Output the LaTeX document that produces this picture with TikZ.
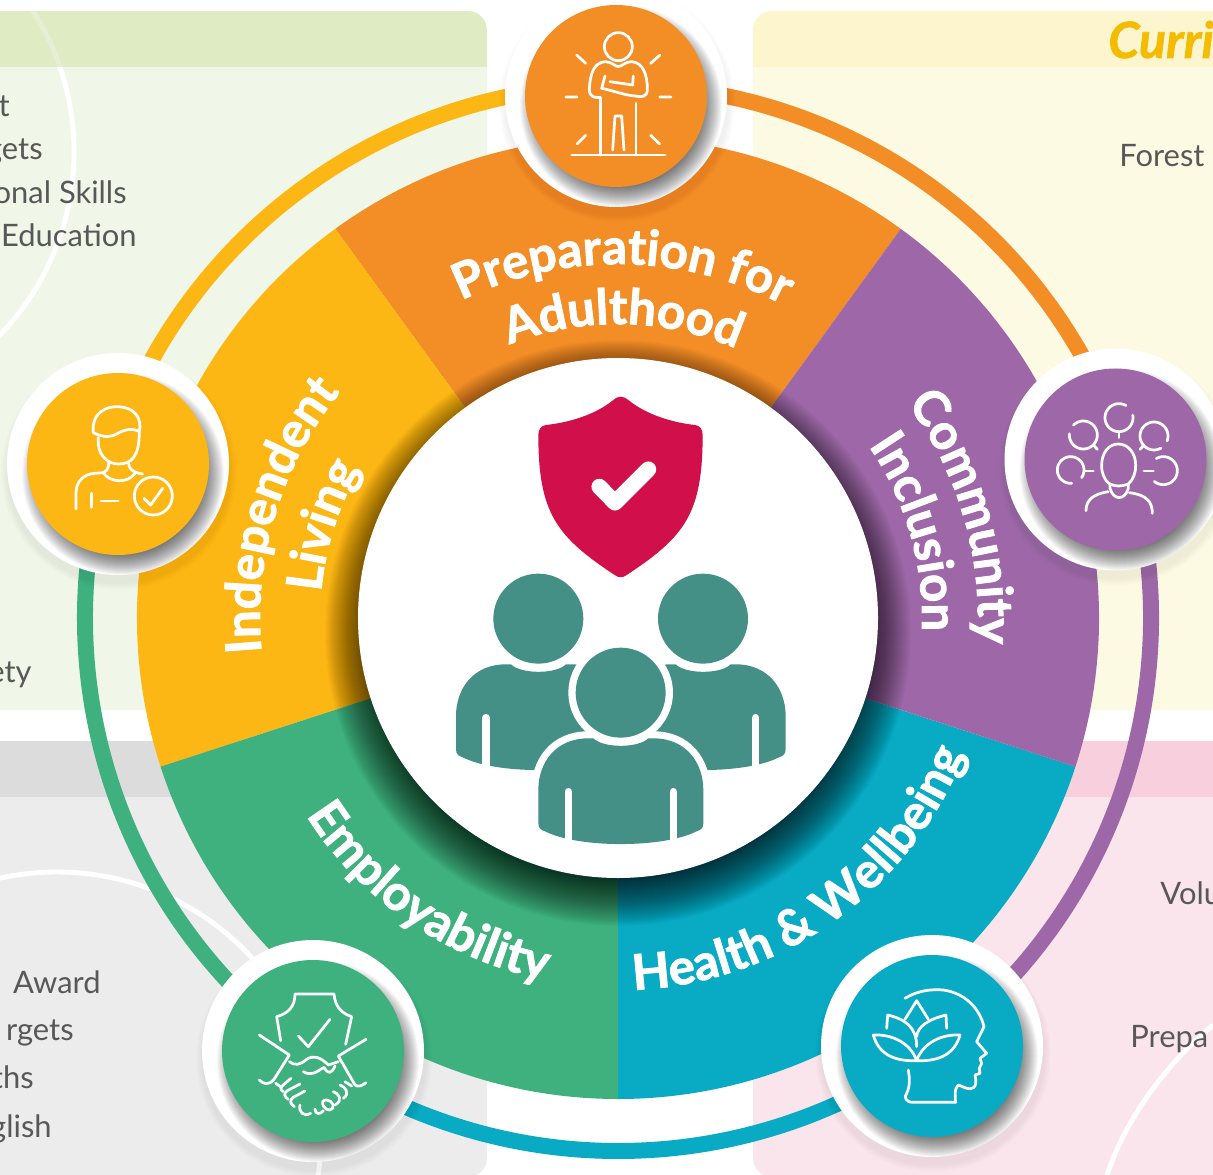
\documentclass[tikz,border=0pt]{standalone}
\usepackage{fontspec}
\setmainfont{Lato}
\newfontfamily\wfam{Lato}[BoldFeatures={FakeBold=1.8}]
\newfontfamily\cfam{Lato}[BoldItalicFeatures={FakeBold=1.2}]
\usetikzlibrary{decorations.text}
\definecolor{cOrange}{HTML}{F38D26}
\definecolor{cYellow}{HTML}{FDB714}
\definecolor{cPurple}{HTML}{9E68A8}
\definecolor{cGreen}{HTML}{3EB17E}
\definecolor{cTeal}{HTML}{08ABC3}
\definecolor{cPeople}{HTML}{459086}
\definecolor{cShield}{HTML}{D10F4A}
\definecolor{cText}{HTML}{585858}
\definecolor{gBody}{HTML}{F0F6E8}
\definecolor{gHead}{HTML}{DEEBC3}
\definecolor{gLine}{HTML}{E6EFD6}
\definecolor{yBody}{HTML}{FDFAE4}
\definecolor{yHead}{HTML}{FCF5CE}
\definecolor{kBody}{HTML}{ECECEC}
\definecolor{kHead}{HTML}{DCDCDC}
\definecolor{pBody}{HTML}{FAE5EC}
\definecolor{pHead}{HTML}{F8CFDD}
\definecolor{cCurr}{HTML}{F4BC00}
\newcommand{\wfont}{\wfam\fontsize{28pt}{29pt}\selectfont\bfseries}
\tikzset{
  zm/.style 2 args={shift={(#1,#2)},x=0.0066667cm,y=-0.0066667cm},
  ico/.style={draw=white,line width=1.55pt,line cap=round,line join=round},
  ptext/.style={text=cText,inner sep=0pt,font=\fontsize{17.6pt}{20pt}\selectfont},
  ring/.style={line width=9.1pt},
  arcline/.style={draw=white,line width=2.8pt},
  wlabel/.style={decorate,decoration={text along path,text align=center,text color=white,text={|\wfont|#1}}}
}
\newcommand{\badge}[3]{%
  \foreach \r in {112,...,118} \fill[black,opacity=.008] (#1+1,#2+8) circle[radius=\r];
  \fill[white] (#1,#2) circle[radius=111];
  \begin{scope}
    \clip (#1,#2) circle[radius=111];
    \foreach \r in {78,...,101} \fill[black,opacity=.03] (#1+5,#2+10) circle[radius=\r];
  \end{scope}
  \fill[#3] (#1,#2) circle[radius=91];
}
\newcommand{\garc}[5]{plot[domain=#4:#5,samples=40] ({#1+#3*cos(\x)},{#2+#3*sin(\x)})}
\newcommand{\bodypath}{(490,1075) .. controls (520,1105) and (625,1105) .. (655,1075)
    -- (670,1075) .. controls (770,1075) and (820,1150) .. (820,1230)
    -- (820,1330) .. controls (820,1345) and (812,1350) .. (800,1354)
    .. controls (700,1405) and (445,1405) .. (345,1354)
    .. controls (333,1350) and (325,1345) .. (325,1330)
    -- (325,1230) .. controls (325,1150) and (375,1075) .. (475,1075) -- cycle}
\newcommand{\person}{%
  \draw[white,line width=8pt,line join=round] \bodypath;
  \fill[cPeople] \bodypath;
  \draw[white,line width=4.2pt,line cap=round] (415,1235) -- (415,1410) (730,1235) -- (730,1410);
  \fill[white] (572,938) circle[radius=157];
  \fill[cPeople] (572,938) circle[radius=135];
}
\begin{document}
\begin{tikzpicture}[x=0.02cm,y=-0.02cm]
\useasboundingbox (0,0) rectangle (1213,1175);
\clip (0,0) rectangle (1213,1175);
\fill[white] (0,0) rectangle (1213,1175);
% panels
\fill[gBody,rounded corners=11pt] (-60,11) rectangle (487,710);
\draw[arcline] (-189,152) circle[radius=263];
\begin{scope}
  \clip[rounded corners=11pt] (-60,11) rectangle (487,200);
  \fill[gHead] (-60,11) rectangle (487,67);
  \clip (-60,11) rectangle (487,67);
  \draw[gLine,line width=2.8pt] (-189,152) circle[radius=263];
\end{scope}
\fill[yBody,rounded corners=11pt] (753,11) rectangle (1300,710);
\begin{scope}
  \clip[rounded corners=11pt] (753,11) rectangle (1300,200);
  \fill[yHead] (753,11) rectangle (1300,67);
\end{scope}
\fill[kBody,rounded corners=11pt] (-60,741) rectangle (487,1177);
\begin{scope}
  \clip[rounded corners=11pt] (-60,741) rectangle (487,1000);
  \fill[kHead] (-60,741) rectangle (487,797);
\end{scope}
\draw[arcline] (57,1136) circle[radius=264];
\fill[pBody,rounded corners=11pt] (753,741) rectangle (1300,1177);
\begin{scope}
  \clip[rounded corners=11pt] (753,741) rectangle (1300,1000);
  \fill[pHead] (753,741) rectangle (1300,797);
\end{scope}
\draw[arcline] (1107,1175) .. controls (1125,1120) and (1165,1065) .. (1213,1025);
% panel texts
\node[ptext,anchor=base east] (a1) at (10,117) {t};
\node[ptext,anchor=base east] (a2) at (43,160) {gets};
\node[ptext,anchor=base east] (a3) at (127,204) {onal Skills};
\node[ptext,anchor=base east] (a4) at (137,247) {Education};
\node[ptext,anchor=base east] (a5) at (32,682) {ety};
\node[ptext,anchor=base east] (b1) at (101,993) {Award};
\node[ptext,anchor=base east] (b2) at (74,1040) {rgets};
\node[ptext,anchor=base east] (b3) at (34,1088) {ths};
\node[ptext,anchor=base east] (b4) at (52,1137) {glish};
\node[ptext,anchor=base west] (c1) at (1119,167) {Forest};
\node[ptext,anchor=base west] (d1) at (1160,904) {Volu};
\node[ptext,anchor=base west] (d2) at (1130,1047) {Prepa};
\node[inner sep=0pt,anchor=base west,text=cCurr,font=\cfam\fontsize{28.5pt}{29pt}\selectfont\bfseries\itshape] (c0) at (1108,58) {Curri};
% wheel, in y-up polar coordinates round the centre
\begin{scope}[shift={(618,618)},y=0.02cm]
  \draw[ring,cYellow] (90:533) arc (90:163:533);
  \draw[ring,cGreen] (163:533) arc (163:235:533);
  \draw[ring,cTeal] (235:533) arc (235:306:533);
  \draw[ring,cPurple] (306:533) arc (306:378:533);
  \draw[ring,cOrange] (18:533) arc (18:90:533);
  \fill[cOrange] (0,0) -- (54:481) arc (54:126:481) -- cycle;
  \fill[cYellow] (0,0) -- (126:481) arc (126:198:481) -- cycle;
  \fill[cGreen] (0,0) -- (198:481) arc (198:270:481) -- cycle;
  \fill[cTeal] (0,0) -- (270:481) arc (270:342:481) -- cycle;
  \fill[cPurple] (0,0) -- (342:481) arc (342:414:481) -- cycle;
  \path[wlabel={Preparation for}] (129.2:354) arc (129.2:49.2:354);
  \path[wlabel={Adulthood}] (129:294) arc (129:49:294);
  \path[wlabel={Independent}] (205.7:358) arc (205.7:120.7:358);
  \path[wlabel={Living}] (205:298) arc (205:120:298);
  \path[wlabel={Community}] (59.3:360) arc (59.3:-26.7:360);
  \path[wlabel={Inclusion}] (60:304) arc (60:-28:304);
  \path[wlabel={Employability}] (196.5:369) arc (196.5:274.5:369);
  \path[wlabel={Health {\&} Wellbeing}] (261.5:372) arc (261.5:349.5:372);
\end{scope}
% soft shadow of the central disc on the wheel
\begin{scope}
  \clip (618,618) circle[radius=481];
  \foreach \r in {240,...,293} \fill[black,opacity=.02] (618,633) circle[radius=\r];
\end{scope}
\fill[white] (618,618) circle[radius=260];
% central icon
\begin{scope}[zm={430}{380}]
  \fill[cShield] (572,50) .. controls (582,50) and (588,55) .. (595,60)
     .. controls (650,105) and (730,128) .. (795,135)
     .. controls (810,137) and (818,148) .. (818,165)
     .. controls (818,400) and (765,470) .. (590,585)
     .. controls (578,594) and (566,594) .. (554,585)
     .. controls (380,470) and (325,400) .. (325,165)
     .. controls (325,148) and (333,137) .. (348,135)
     .. controls (415,128) and (495,105) .. (550,60)
     .. controls (556,55) and (562,50) .. (572,50) -- cycle;
  \draw[white,line width=9pt,line cap=round,line join=round] (508,320) -- (555,368) -- (655,268);
\end{scope}
\begin{scope}[zm={430-82.33}{380-74}]
  \person
\end{scope}
\begin{scope}[zm={430+82.33}{380-74}]
  \person
\end{scope}
\begin{scope}[zm={430}{380}]
  \person
\end{scope}
% badges
\badge{616}{96}{cOrange}
\badge{118}{464}{cYellow}
\badge{1115.5}{459.5}{cPurple}
\badge{313}{1051}{cGreen}
\badge{932}{1046}{cTeal}
% icon: standing person
\begin{scope}[zm={500}{0}]
  \draw[ico] (355,140) circle[radius=42];
  \draw[ico] (302,292) .. controls (285,294) and (268,292) .. (268,268)
     .. controls (270,225) and (280,188) .. (315,185)
     .. controls (335,185) and (345,200) .. (355,200)
     .. controls (365,200) and (375,185) .. (395,185)
     .. controls (430,188) and (442,225) .. (442,268)
     .. controls (442,292) and (425,292) .. (405,288)
     .. controls (370,285) and (340,272) .. (305,265) -- (315,228);
  \draw[ico] (400,228) -- (398,255) -- (330,245);
  \draw[ico] (302,296) -- (302,465) (408,310) -- (408,465);
  \draw[ico] (338,450) -- (345,348) -- (365,348) -- (372,450);
  \draw[ico] (215,465) -- (495,465);
  \draw[ico] (230,165) -- (257,190) (480,165) -- (452,190) (197,291) -- (231,291) (479,291) -- (513,291) (231,432) -- (257,406) (479,432) -- (452,406);
\end{scope}
% icon: person with check
\begin{scope}[zm={0}{350}]
  \draw[ico] (280,248) -- (280,225) .. controls (285,190) and (315,170) .. (350,170)
     .. controls (390,170) and (420,190) .. (420,230) -- (418,245)
     .. controls (395,232) and (370,240) .. (350,252)
     .. controls (325,266) and (300,258) .. (280,248) -- cycle;
  \draw[ico] (295,262) -- (295,285) .. controls (300,320) and (325,342) .. (355,342)
     .. controls (395,342) and (418,320) .. (418,245);
  \draw[ico] (327,335) -- (325,350) .. controls (325,358) and (318,364) .. (310,368);
  \draw[ico] (385,335) -- (388,350) .. controls (392,362) and (410,370) .. (428,372);
  \draw[ico] (310,368) .. controls (330,400) and (385,400) .. (405,370);
  \draw[ico] (228,477) -- (228,430) .. controls (228,395) and (250,372) .. (285,370) -- (310,368);
  \draw[ico] (275,430) -- (275,472) (303,453) -- (355,453);
  \draw[ico] (460,438) circle[radius=57];
  \draw[ico] (432,445) -- (452,465) -- (488,415);
\end{scope}
% icon: community
\begin{scope}[zm={1000}{340}]
  \draw[ico] (355,312) .. controls (325,312) and (305,340) .. (305,375)
     .. controls (303,395) and (315,425) .. (330,432)
     .. controls (345,440) and (365,440) .. (385,432)
     .. controls (400,420) and (408,395) .. (407,375)
     .. controls (407,340) and (385,312) .. (355,312) -- cycle;
  \draw[ico] (330,432) -- (330,445) .. controls (340,482) and (375,482) .. (385,445) -- (385,432);
  \draw[ico] (258,512) .. controls (258,480) and (280,462) .. (325,455);
  \draw[ico] (457,520) .. controls (457,485) and (440,465) .. (388,458);
  \draw[ico] \garc{357}{233}{42}{-10}{300};
  \draw[ico] (357,275) -- (357,293);
  \draw[ico] \garc{250}{285}{42}{225}{545};
  \draw[ico] (280,315) -- (292,328);
  \draw[ico] \garc{462}{288}{42}{60}{380};
  \draw[ico] (432,315) -- (420,328);
  \draw[ico] \garc{212}{390}{40}{85}{395};
  \draw[ico] (252,393) -- (280,393);
  \draw[ico] \garc{490}{392}{42}{240}{490};
  \draw[ico] (432,393) -- (460,393);
\end{scope}
% icon: handshake
\begin{scope}[zm={200}{930}]
  \draw[ico] (242,332) -- (230,260) .. controls (265,250) and (285,230) .. (285,192) -- (402,192) .. controls (405,230) and (425,250) .. (455,260) -- (437,343);
  \draw[ico] (295,318) -- (325,350) -- (390,268);
  \draw[ico] (178,315) -- (268,375) -- (222,448);
  \draw[ico] (178,450) .. controls (190,462) and (205,468) .. (222,448);
  \draw[ico] (498,328) -- (415,378) -- (465,465);
  \draw[ico] (498,458) .. controls (485,468) and (475,472) .. (465,465);
  \draw[ico] (268,395) .. controls (285,408) and (300,405) .. (320,388)
     .. controls (340,375) and (360,380) .. (385,405) -- (415,395);
  \draw[ico] (310,425) .. controls (335,440) and (350,425) .. (372,412)
     .. controls (385,435) and (395,430) .. (405,408);
  \draw[ico] (227,460) -- (245,472) (435,455) -- (455,468);
  \draw[ico] (250,485) .. controls (240,478) and (240,472) .. (250,465) -- (273,445);
  \draw[ico] (265,508) .. controls (252,500) and (250,490) .. (262,482) -- (300,462);
  \draw[ico] (283,530) .. controls (270,522) and (268,510) .. (280,502) -- (315,483);
  \draw[ico] (300,525) .. controls (295,545) and (310,562) .. (332,550);
  \draw[ico] (345,537) .. controls (345,552) and (360,556) .. (370,542);
  \draw[ico] (368,515) .. controls (380,500) and (408,520) .. (398,535) .. controls (390,548) and (365,535) .. (368,515) -- cycle;
  \draw[ico] (400,485) .. controls (415,490) and (432,510) .. (405,525);
  \draw[ico] (420,465) .. controls (435,470) and (452,490) .. (430,505);
\end{scope}
% icon: lotus head
\begin{scope}[zm={810}{930}]
  \draw[ico] (285,205) .. controls (330,178) and (370,178) .. (400,180)
     .. controls (470,190) and (510,240) .. (522,290) -- (500,335) -- (530,370) -- (510,385) -- (515,400) -- (508,415) -- (510,430) -- (495,435)
     .. controls (505,475) and (485,480) .. (470,475) -- (445,465)
     .. controls (432,475) and (435,500) .. (437,517) -- (310,517)
     .. controls (285,517) and (282,500) .. (290,490)
     .. controls (302,465) and (298,440) .. (295,420);
  \draw[ico] (320,392) .. controls (300,335) and (240,312) .. (190,315) .. controls (205,370) and (250,395) .. (320,392);
  \draw[ico] (320,392) .. controls (340,335) and (400,312) .. (450,315) .. controls (435,370) and (390,395) .. (320,392);
  \draw[ico] (230,295) -- (233,255) .. controls (285,268) and (320,290) .. (320,350);
  \draw[ico] (410,295) -- (408,255) .. controls (355,268) and (322,290) .. (320,320);
  \draw[ico] (285,268) -- (320,212) -- (355,268);
\end{scope}
\end{tikzpicture}
\end{document}
